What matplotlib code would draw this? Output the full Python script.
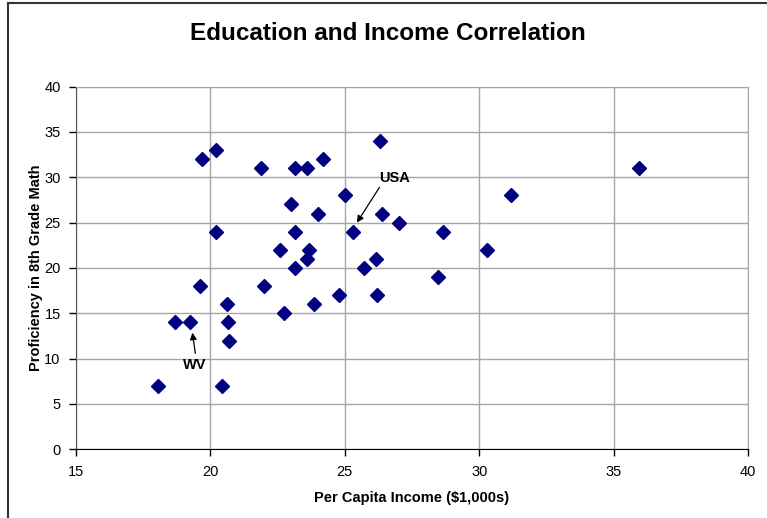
import matplotlib
matplotlib.use("Agg")
import matplotlib.pyplot as plt
from matplotlib.patches import Rectangle

# Per capita income ($1,000s) and 8th grade math proficiency, one point per state
income = [19.7, 20.2, 21.9, 23.15, 23.6, 24.2, 26.3, 23.0, 25.0, 20.2,
          23.15, 24.0, 26.4, 27.0, 25.3, 28.65, 22.6, 23.65, 23.6, 26.15,
          30.3, 23.15, 25.7, 28.45, 19.6, 22.0, 20.6, 23.85, 24.8, 26.2,
          22.75, 18.7, 19.25, 20.65, 20.7, 18.05, 20.45, 35.95, 31.2]
proficiency = [32, 33, 31, 31, 31, 32, 34, 27, 28, 24,
               24, 26, 26, 25, 24, 24, 22, 22, 21, 21,
               22, 20, 20, 19, 18, 18, 16, 16, 17, 17,
               15, 14, 14, 14, 12, 7, 7, 31, 28]

# callouts: label, text position, arrow tail, arrow tip
callouts = [
    ("USA", (26.85, 29.96), (26.29, 28.89), (25.45, 25.0)),
    ("WV", (19.42, 9.26), (19.44, 10.58), (19.33, 12.86)),
]

x_ticks = [15, 20, 25, 30, 35, 40]
y_ticks = [0, 5, 10, 15, 20, 25, 30, 35, 40]

plt.rcParams['font.family'] = ['Liberation Sans', 'DejaVu Sans']

fig = plt.figure(figsize=(7.67, 5.18), dpi=100)
ax = fig.add_axes([0.0991, 0.1326, 0.8761, 0.7002])

# outer chart border (only left and top edges fall inside the image)
fig.patches.append(Rectangle((8 / 767, -0.5), 2.0, 1.5 - 3 / 518,
                             transform=fig.transFigure, fill=False,
                             edgecolor='#333333', linewidth=1.5))

ax.plot(income, proficiency, linestyle='none', marker='D',
        markersize=6.8, color='#000080', zorder=3)

ax.set_xlim(15, 40)
ax.set_ylim(0, 40)
ax.set_xticks(x_ticks)
ax.set_yticks(y_ticks)
ax.grid(True, color='#a6a6a6', linewidth=1.0)
ax.set_axisbelow(True)

for side in ['top', 'right']:
    ax.spines[side].set_color('#a6a6a6')
ax.spines['left'].set_color('#555555')
ax.spines['bottom'].set_color('black')
ax.tick_params(direction='out', length=5, width=1, labelsize=10.5,
               color='black', pad=6)

ax.set_xlabel('Per Capita Income ($1,000s)', fontsize=10.5,
              fontweight='bold', labelpad=9)
ax.set_ylabel('Proficiency in 8th Grade Math', fontsize=10.5,
              fontweight='bold', labelpad=1)
fig.text(0.506, 0.936, 'Education and Income Correlation', fontsize=17.5,
         fontweight='bold', ha='center', va='center')

for name, text_xy, tail, tip in callouts:
    ax.text(text_xy[0], text_xy[1], name, ha='center', va='center',
            fontsize=10.5, fontweight='bold')
    ax.annotate('', xy=tip, xytext=tail,
                arrowprops=dict(arrowstyle='-|>', color='black', lw=0.9,
                                mutation_scale=10, shrinkA=0, shrinkB=0))

fig.savefig('out.png', dpi=100)
